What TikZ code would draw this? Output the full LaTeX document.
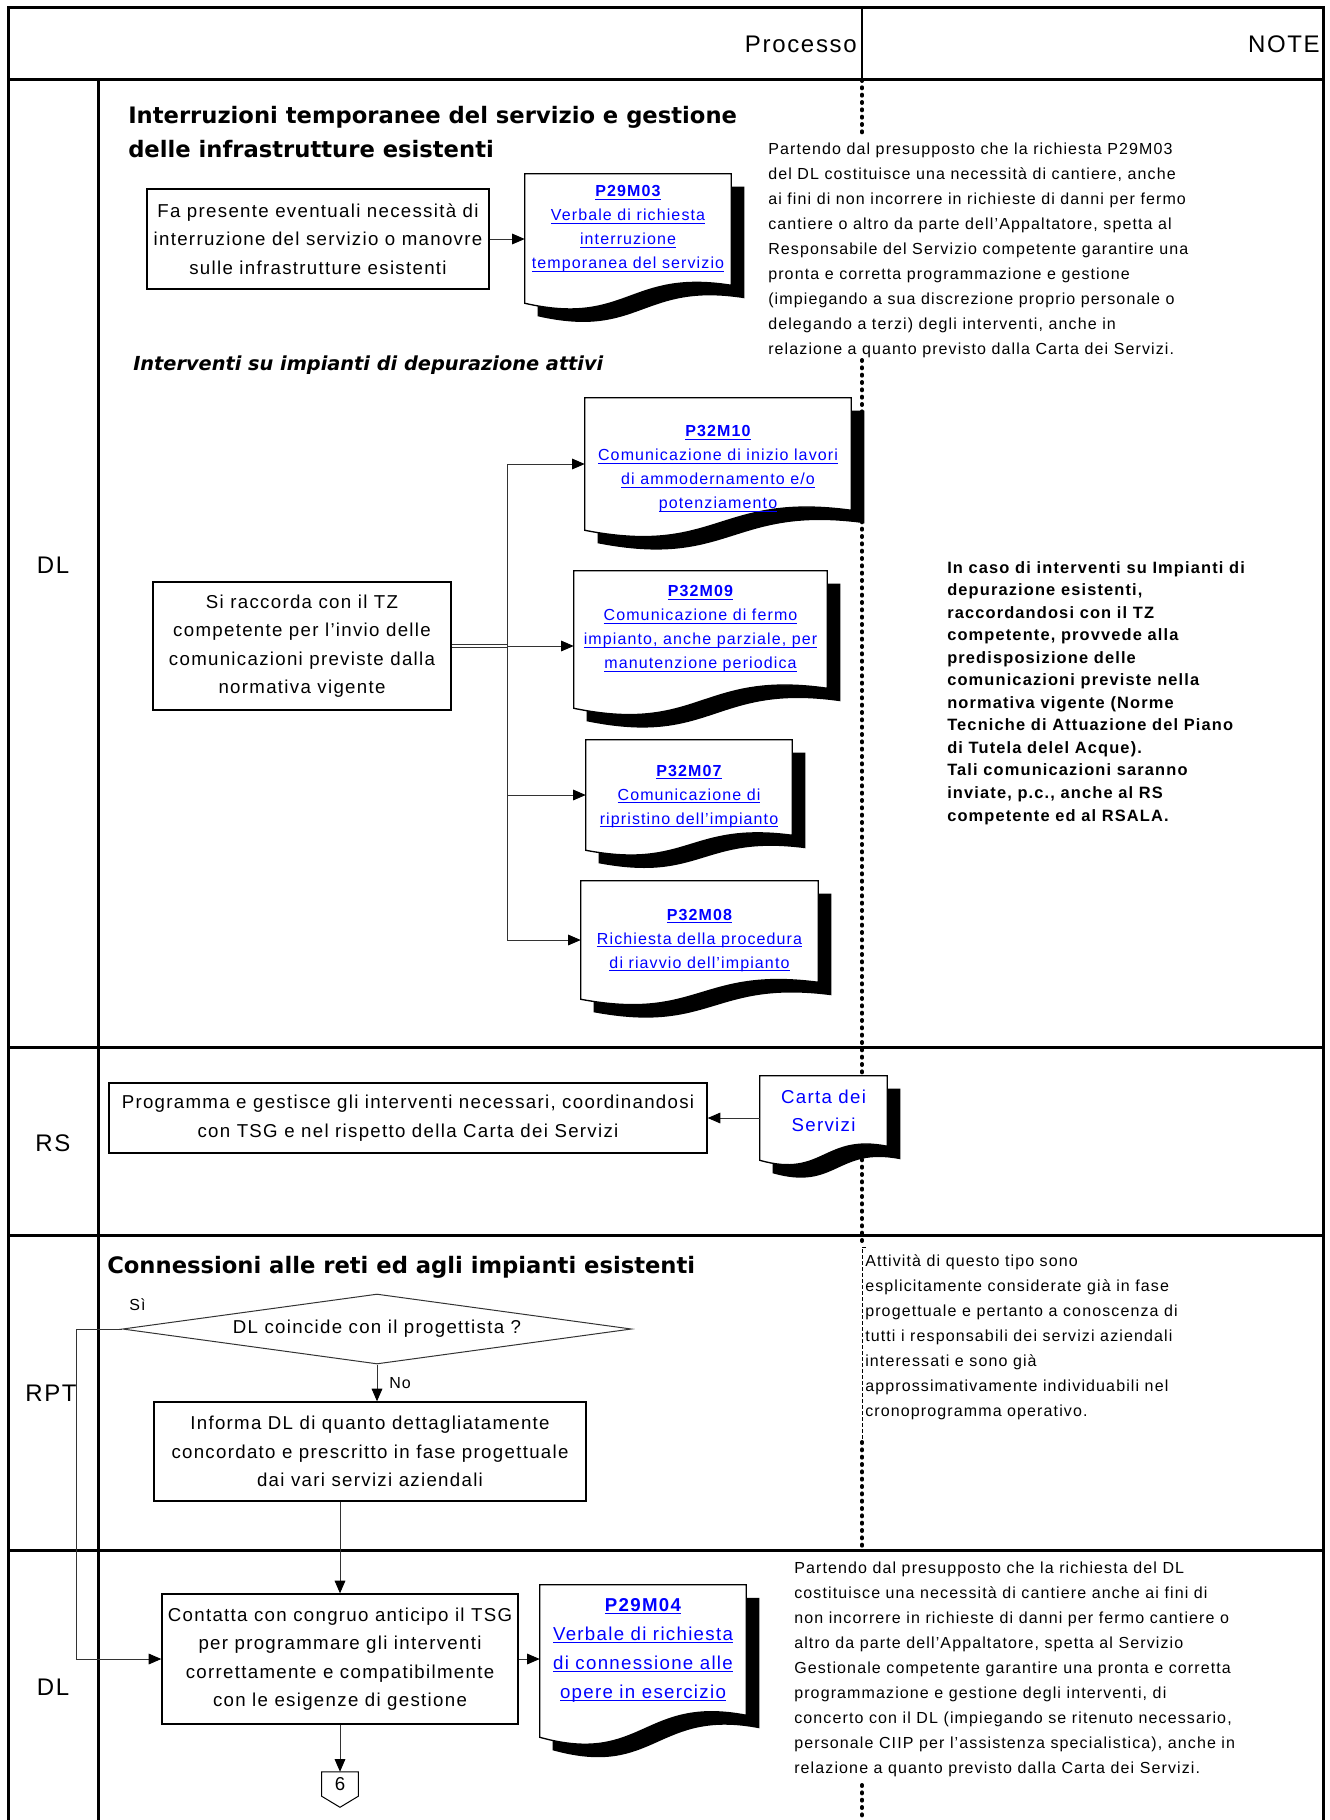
\documentclass[tikz,border=0pt]{standalone}
\usepackage{fontspec}
\setmainfont{Liberation Sans}[LetterSpace=7]
\newfontfamily\titlefont{DejaVu Sans}
\usetikzlibrary{arrows.meta, calc, shapes.geometric}
\definecolor{linkblue}{RGB}{0,0,255}
\newcommand\lnkline[1]{\setbox0\hbox{#1}\rlap{\rule[-2.2pt]{\wd0}{0.7pt}}\box0}
\tikzset{procbox/.style={draw, line width=1pt, fill=white, align=center, inner sep=0, font=\fontsize{14}{21.4}\selectfont}}
\tikzset{docframe/.style={inner sep=0}}
\tikzset{doctext/.style={align=center, inner sep=0, text=linkblue, font=\fontsize{12}{18}\selectfont}}
\tikzset{notetext/.style={align=left, anchor=north west, inner sep=0, font=\fontsize{12}{18.75}\selectfont}}
\tikzset{lanelabel/.style={inner sep=0, font=\fontsize{18}{20}\selectfont}}
\tikzset{titletext/.style={align=left, inner sep=0, font=\titlefont\bfseries\fontsize{17}{25.5}\selectfont}}
\tikzset{arr/.style={draw=black!80, line width=0.75pt, -{Triangle[length=9.5pt, width=8pt, fill=black, color=black]}}}
\tikzset{conn/.style={draw=black!80, line width=0.75pt}}
\tikzset{lane/.style={line width=2.25pt}}
\tikzset{dots/.style={line width=3pt, line cap=round, dash pattern=on 0.75pt off 4.75pt}}
% document shape with black shadow around a named node
\newcommand\docshape[2]{
    \fill[black] ([shift={(13,13)}]#1.north west) -- ([shift={(13,13)}]#1.north east)
        -- ([shift={(13,13-#2)}]#1.south east)
        .. controls ([shift={(13,13-1.9*#2)}]#1.south) and ([shift={(13,13+1.3*#2)}]#1.south) .. ([shift={(13,13)}]#1.south west) -- cycle;
    \filldraw[fill=white, line width=1pt] (#1.north west) -- (#1.north east)
        -- ([shift={(0,-#2)}]#1.south east)
        .. controls ([shift={(0,-1.9*#2)}]#1.south) and ([shift={(0,1.3*#2)}]#1.south) .. (#1.south west) -- cycle;
}
\begin{document}
\begin{tikzpicture}[x=0.75pt, y=-0.75pt]
    \useasboundingbox (0,0) rectangle (1329,1820);

    % frame and lanes
    \draw[lane] (8,1820) -- (8,7) -- (1323,7) -- (1323,1820);
    \draw[line width=1.5pt] (862,7) -- (862,79);
    \foreach \yy in {79,1047,1235,1550}
        \draw[lane] (8,\yy) -- (1323,\yy);
    \draw[lane] (98,79) -- (98,1820);
    \foreach \ya/\yb in {80/136, 360/1245, 1442/1549, 1785/1820}
        \draw[dots] (862,\ya) -- (862,\yb);
    \draw[line width=0.5pt, dash pattern=on 3pt off 1.5pt] (866,1247) -- (862,1247) -- (862,1442);

    \node[lanelabel, anchor=base east] (processo) at (857,52) {Processo};
    \node[lanelabel, anchor=base east] (note) at (1320,52) {NOTE};
    \node[lanelabel] (DL1) at (53,565) {DL};
    \node[lanelabel] (RS) at (53,1143) {RS};
    \node[lanelabel] (RPT) at (51,1393) {RPT};
    \node[lanelabel] (DL2) at (53,1687) {DL};

    % DL: interruzioni
    \node[titletext, anchor=north west] (interruzioni) at (128,106) {Interruzioni temporanee del servizio e gestione\\delle infrastrutture esistenti};
    \node[procbox, minimum width=256.5pt, minimum height=75pt] (fapresente) at (318,239) {Fa presente eventuali necessità di\\interruzione del servizio o manovre\\sulle infrastrutture esistenti};
    \node[docframe, minimum width=154.5pt, minimum height=96.75pt] (P29M03) at (628,238.5) {};
    \docshape{P29M03}{18}
    \node[doctext] (P29M03-t) at (628,229) {\textbf{\lnkline{P29M03}}\\\lnkline{Verbale di richiesta}\\\lnkline{interruzione}\\\lnkline{temporanea del servizio}};
    \draw[arr] (fapresente.east) -- (fapresente.east -| P29M03.west);
    \node[notetext] (note1) at (768,143) {Partendo dal presupposto che la richiesta P29M03\\del DL costituisce una necessità di cantiere, anche\\ai fini di non incorrere in richieste di danni per fermo\\cantiere o altro da parte dell'Appaltatore, spetta al\\Responsabile del Servizio competente garantire una\\pronta e corretta programmazione e gestione\\(impiegando a sua discrezione proprio personale o\\delegando a terzi) degli interventi, anche in\\relazione a quanto previsto dalla Carta dei Servizi.};

    % DL: depurazione
    \node[titletext, anchor=base west, font=\titlefont\bfseries\itshape\fontsize{14.5}{17}\selectfont] (depurazione) at (133,370) {Interventi su impianti di depurazione attivi};
    \node[procbox, minimum width=223.5pt, minimum height=96pt] (raccorda) at (302,646) {Si raccorda con il TZ\\competente per l'invio delle\\comunicazioni previste dalla\\normativa vigente};
    \node[docframe, minimum width=199.5pt, minimum height=99pt] (P32M10) at (718,464) {};
    \docshape{P32M10}{20}
    \node[doctext] (P32M10-t) at (718,469) {\textbf{\lnkline{P32M10}}\\\lnkline{Comunicazione di inizio lavori}\\\lnkline{di ammodernamento e/o}\\\lnkline{potenziamento}};
    \node[docframe, minimum width=189.75pt, minimum height=102.75pt] (P32M09) at (700.5,639.5) {};
    \docshape{P32M09}{20}
    \node[doctext] (P32M09-t) at (700.5,629) {\textbf{\lnkline{P32M09}}\\\lnkline{Comunicazione di fermo}\\\lnkline{impianto, anche parziale, per}\\\lnkline{manutenzione periodica}};
    \node[docframe, minimum width=154.5pt, minimum height=82.5pt] (P32M07) at (689,795) {};
    \docshape{P32M07}{15}
    \node[doctext] (P32M07-t) at (689,796.5) {\textbf{\lnkline{P32M07}}\\\lnkline{Comunicazione di}\\\lnkline{ripristino dell’impianto}};
    \node[docframe, minimum width=177.75pt, minimum height=88.5pt] (P32M08) at (699.5,940) {};
    \docshape{P32M08}{17}
    \node[doctext] (P32M08-t) at (699.5,940.5) {\textbf{\lnkline{P32M08}}\\\lnkline{Richiesta della procedura}\\\lnkline{di riavvio dell’impianto}};
    \coordinate (trunk) at (507,646);
    \draw[conn, line width=0.6pt, double distance=1.6pt] (raccorda.east) -- (trunk);
    \draw[conn] (trunk |- P32M10.west) -- (trunk |- P32M08.west);
    \foreach \d in {P32M10,P32M07,P32M08}
        \draw[arr] (trunk |- \d.west) -- (\d.west);
    \draw[arr] (trunk) -- (trunk -| P32M09.west);
    \node[notetext, font=\bfseries\fontsize{12.3}{16.9}\selectfont] (note2) at (947,561) {In caso di interventi su Impianti di\\depurazione esistenti,\\raccordandosi con il TZ\\competente, provvede alla\\predisposizione delle\\comunicazioni previste nella\\normativa vigente (Norme\\Tecniche di Attuazione del Piano\\di Tutela delel Acque).\\Tali comunicazioni saranno\\inviate, p.c., anche al RS\\competente ed al RSALA.};

    % RS
    \node[procbox, minimum width=448.5pt, minimum height=52.5pt] (programma) at (408,1118) {Programma e gestisce gli interventi necessari, coordinandosi\\con TSG e nel rispetto della Carta dei Servizi};
    \node[docframe, minimum width=95.25pt, minimum height=63pt] (carta) at (823.5,1118) {};
    \docshape{carta}{14}
    \node[doctext, font=\fontsize{14}{21.4}\selectfont] (carta-t) at (823.5,1111) {Carta dei\\Servizi};
    \draw[arr] (carta.west) -- (carta.west -| programma.east);

    % RPT
    \node[titletext, anchor=base west] (connessioni) at (107,1273) {Connessioni alle reti ed agli impianti esistenti};
    \node[draw=black!80, diamond, shape aspect=7.3, inner sep=0, minimum width=381.75pt, minimum height=52.5pt, line width=0.75pt, font=\fontsize{14}{16}\selectfont] (coincide) at (377,1329) {DL coincide con il progettista ?};
    \node[inner sep=0, anchor=base west, font=\fontsize{12}{14}\selectfont] (si) at (129,1310) {Sì};
    \node[inner sep=0, anchor=west, font=\fontsize{12}{14}\selectfont] (no) at (389,1383) {No};
    \node[procbox, minimum width=324pt, minimum height=74.25pt] (informa) at (370,1451.5) {Informa DL di quanto dettagliatamente\\concordato e prescritto in fase progettuale\\dai vari servizi aziendali};
    \draw[arr] (coincide.south) -- (coincide.south |- informa.north);
    \node[notetext] (note3) at (865,1254) {Attività di questo tipo sono\\esplicitamente considerate già in fase\\progettuale e pertanto a conoscenza di\\tutti i responsabili dei servizi aziendali\\interessati e sono già\\approssimativamente individuabili nel\\cronoprogramma operativo.};

    % DL: connessione
    \node[procbox, minimum width=267pt, minimum height=97.5pt] (contatta) at (340,1659) {Contatta con congruo anticipo il TSG\\per programmare gli interventi\\correttamente e compatibilmente\\con le esigenze di gestione};
    \draw[arr] (contatta.north |- informa.south) -- (contatta.north);
    \coordinate (loop) at (76,1329);
    \draw[arr] (coincide.west) -- (loop) -- (loop |- contatta.west) -- (contatta.west);
    \node[docframe, minimum width=154.5pt, minimum height=114pt] (P29M04) at (643,1661) {};
    \docshape{P29M04}{22}
    \node[doctext, font=\fontsize{14}{21.75}\selectfont] (P29M04-t) at (643,1650) {\textbf{\lnkline{P29M04}}\\\lnkline{Verbale di richiesta}\\\lnkline{di connessione alle}\\\lnkline{opere in esercizio}};
    \draw[arr] (contatta.east) -- (contatta.east -| P29M04.west);
    \node[inner sep=0, minimum width=27pt, minimum height=18pt, font=\fontsize{14}{16}\selectfont] (ref6) at (340,1784) {6};
    \draw[line width=0.75pt] (ref6.north west) -- (ref6.north east) -- (ref6.south east) -- ([shift={(0,11)}]ref6.south) -- (ref6.south west) -- cycle;
    \draw[arr] (contatta.south) -- (ref6.north);
    \node[notetext] (note4) at (794,1562) {Partendo dal presupposto che la richiesta del DL\\costituisce una necessità di cantiere anche ai fini di\\non incorrere in richieste di danni per fermo cantiere o\\altro da parte dell'Appaltatore, spetta al Servizio\\Gestionale competente garantire una pronta e corretta\\programmazione e gestione degli interventi, di\\concerto con il DL (impiegando se ritenuto necessario,\\personale CIIP per l’assistenza specialistica), anche in\\relazione a quanto previsto dalla Carta dei Servizi.};
\end{tikzpicture}
\end{document}
